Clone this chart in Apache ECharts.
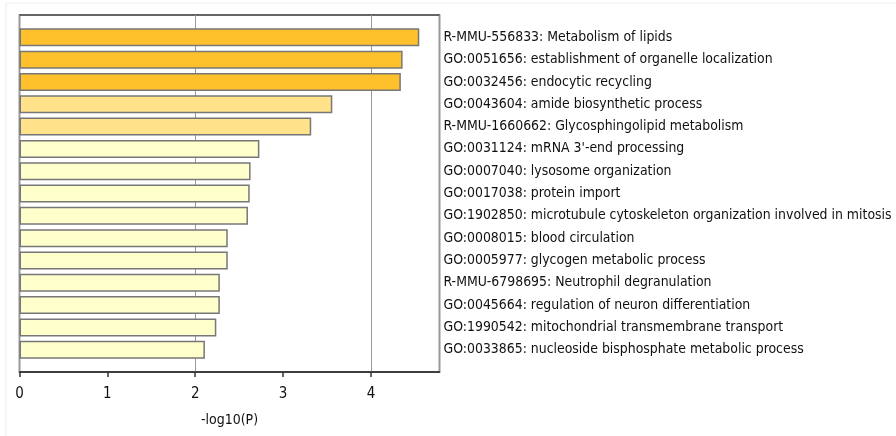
<!DOCTYPE html>
<html>
<head>
<meta charset="utf-8">
<script src="https://cdn.jsdelivr.net/npm/echarts@6/dist/echarts.min.js"></script>
<style>
  html, body { margin: 0; padding: 0; background: #fff; }
  #chart { width: 896px; height: 436px; }
</style>
</head>
<body>
<div id="chart"></div>
<script>
// terms, top to bottom
const terms = [
  'R-MMU-556833: Metabolism of lipids',
  'GO:0051656: establishment of organelle localization',
  'GO:0032456: endocytic recycling',
  'GO:0043604: amide biosynthetic process',
  'R-MMU-1660662: Glycosphingolipid metabolism',
  "GO:0031124: mRNA 3'-end processing",
  'GO:0007040: lysosome organization',
  'GO:0017038: protein import',
  'GO:1902850: microtubule cytoskeleton organization involved in mitosis',
  'GO:0008015: blood circulation',
  'GO:0005977: glycogen metabolic process',
  'R-MMU-6798695: Neutrophil degranulation',
  'GO:0045664: regulation of neuron differentiation',
  'GO:1990542: mitochondrial transmembrane transport',
  'GO:0033865: nucleoside bisphosphate metabolic process'
];
// -log10(P)
const logP = [4.55, 4.36, 4.34, 3.56, 3.32, 2.73, 2.63, 2.62, 2.60, 2.37, 2.37, 2.28, 2.28, 2.24, 2.11];
const xTicks = [0, 1, 2, 3, 4];

// colour by significance, like metascape
function barColor(v) {
  if (v >= 4) return '#FFC12B';
  if (v >= 3) return '#FFE28A';
  return '#FFFFCC';
}

// blank slot above and below so bars sit off the frame
const cats = [''].concat(terms, ['']);
const barData = ['-'].concat(logP.map(v => ({
  value: v,
  itemStyle: { color: barColor(v) }
})), ['-']);

const chart = echarts.init(document.getElementById('chart'));
chart.setOption({
  animation: false,
  textStyle: { fontFamily: 'DejaVu Sans Condensed, DejaVu Sans' },
  graphic: [{
    type: 'rect',
    shape: { x: 6, y: 3, width: 900, height: 440 },
    style: { fill: 'none', stroke: '#eeeeee', lineWidth: 1 },
    silent: true
  }],
  grid: {
    left: 19.5, top: 15, width: 420, height: 357,
    show: true, borderColor: '#333', borderWidth: 1.5, backgroundColor: 'transparent'
  },
  xAxis: [{
    type: 'value', min: 0, max: 4.78,
    name: '-log10(P)', nameLocation: 'middle', nameGap: 41,
    nameTextStyle: { fontSize: 14, color: '#111' },
    axisLine: { show: true, lineStyle: { color: '#333', width: 1.5 } },
    axisTick: { show: true, length: 5, customValues: xTicks, lineStyle: { color: '#333', width: 1.5 } },
    axisLabel: { customValues: xTicks, margin: 15, fontSize: 15, color: '#111' },
    splitLine: { show: false }
  }, {
    type: 'value', min: 0, max: 4.78, interval: 2,
    axisLine: { show: false }, axisTick: { show: false }, axisLabel: { show: false },
    splitLine: { show: true, lineStyle: { color: '#999', width: 1 } }
  }],
  yAxis: {
    type: 'category', data: cats, inverse: true, boundaryGap: false,
    position: 'right',
    axisLine: { show: false }, axisTick: { show: false },
    axisLabel: { margin: 4, fontSize: 13.9, color: '#111', interval: 0 },
    splitLine: { show: false }
  },
  series: [{
    type: 'bar', xAxisIndex: 0, data: barData, barWidth: 18,
    itemStyle: { borderColor: '#777', borderWidth: 1.5 }
  }]
});
</script>
</body>
</html>
